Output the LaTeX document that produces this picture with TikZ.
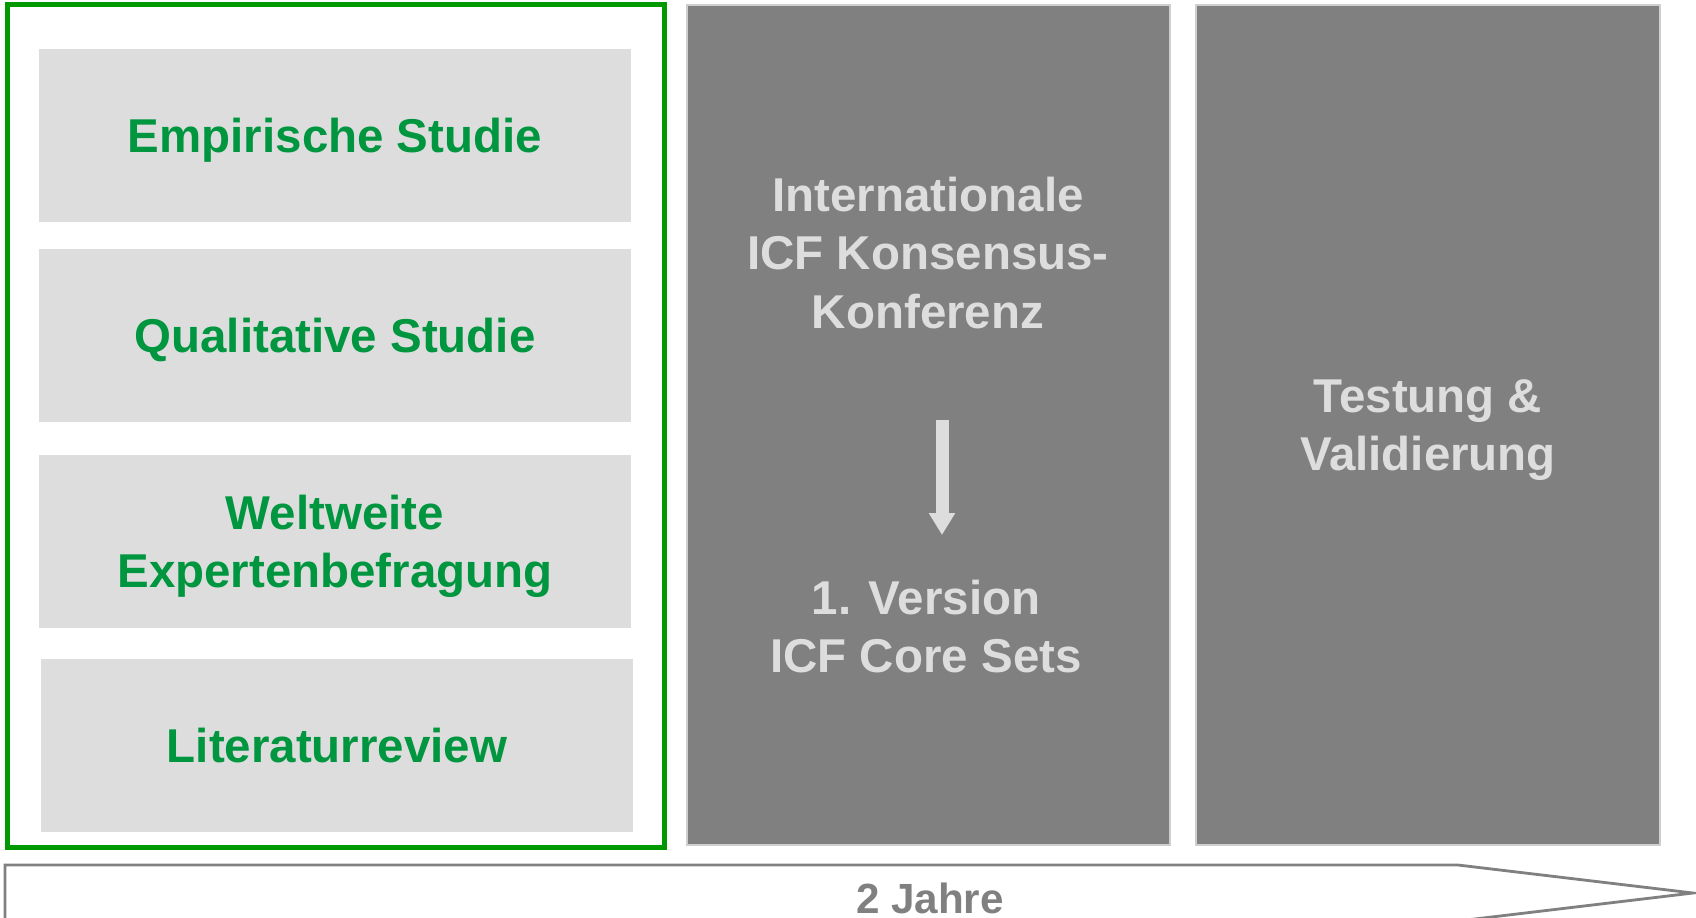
\documentclass[tikz,border=0pt]{standalone}
\usepackage{fontspec}
\setmainfont{Liberation Sans}
\usetikzlibrary{arrows.meta}

\definecolor{icfgreen}{RGB}{0,150,64}
\definecolor{framegreen}{RGB}{0,153,0}
\definecolor{lightgrey}{RGB}{221,221,221}
\definecolor{darkgrey}{RGB}{128,128,128}

\begin{document}
\begin{tikzpicture}[
    x=0.01cm, y=-0.01cm,
    font=\fontsize{13.5}{16.5}\selectfont\bfseries,
    studie/.style={fill=lightgrey,text=icfgreen,align=center,inner sep=0pt,
        text depth=0pt,minimum width=5.92cm,minimum height=1.73cm},
    phase/.style={fill=darkgrey,draw=lightgrey!85!darkgrey,line width=0.6pt,
        text=lightgrey,align=center,inner sep=0pt,text depth=0pt,minimum height=8.4cm},
    >={Triangle[width=0.25cm,length=0.22cm]}
]
\useasboundingbox (0,0) rectangle (1696,917);

% preparatory studies
\node[draw=framegreen,line width=1.4pt,minimum width=6.56cm,minimum height=8.42cm] (rahmen) at (336,426) {};
\node[studie] (empirie) at (335,135.5) {Empirische Studie};
\node[studie] (qualitativ) at (335,335.5) {Qualitative Studie};
\node[studie] (experten) at (335,541.5) {Weltweite\\Expertenbefragung};
\node[studie] (literatur) at (337,745.5) {Literaturreview};

% consensus and validation phases
\node[phase,minimum width=4.83cm] (konsens) at (928.5,425) {};
\node[phase,minimum width=4.64cm] (testung) at (1428,425) {Testung \&\\Validierung};

\node[text=lightgrey,align=center] (konferenz) at (928,253) {Internationale\\ICF Konsensus-\\Konferenz};
\node[text=lightgrey,align=center] (version) at (926,627) {1. Version\\ICF Core Sets};

\coordinate (pfeilA) at (942,420);
\coordinate (pfeilB) at (942,535);
\draw[->,lightgrey,line width=0.13cm] (pfeilA) -- (pfeilB);

% time line
\draw[darkgrey,line width=0.8pt,fill=white] (5,865) -- (1458,865) -- (1693,893) -- (1458,921) -- (5,921) -- cycle;
\node[text=darkgrey,font=\fontsize{12}{14}\selectfont\bfseries] (dauer) at (930,898) {2 Jahre};
\end{tikzpicture}
\end{document}
